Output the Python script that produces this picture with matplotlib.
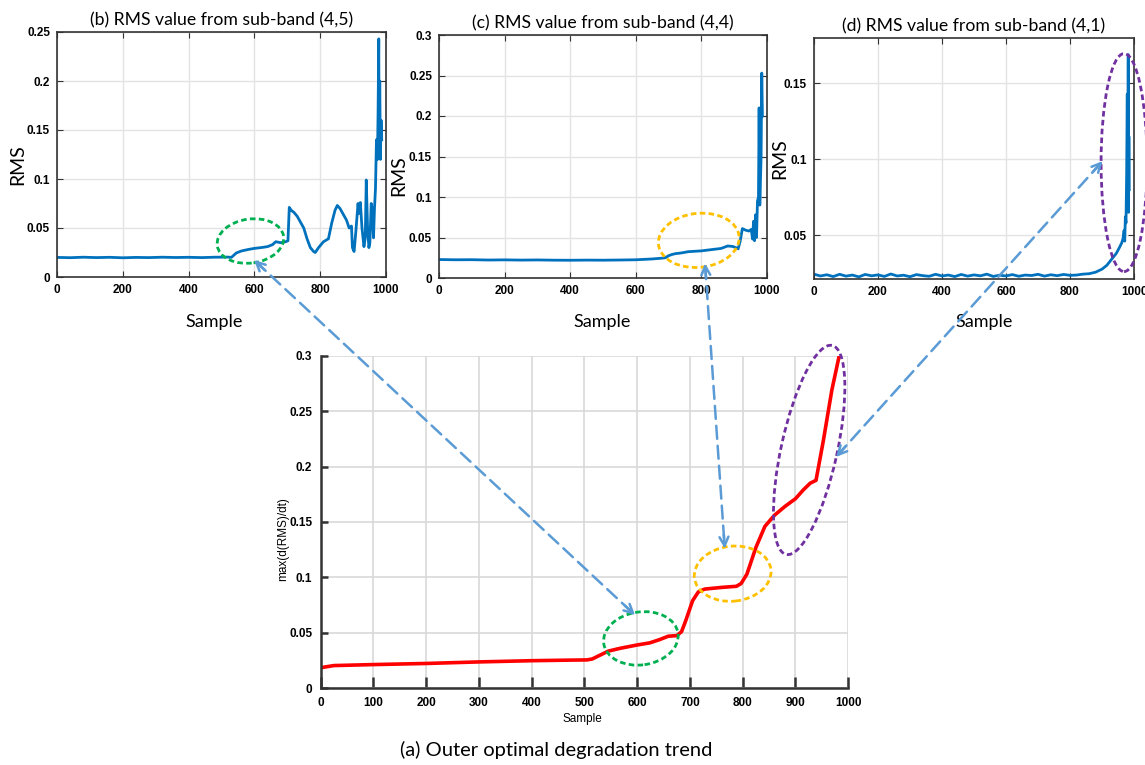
import numpy as np
import matplotlib
matplotlib.use('Agg')
import matplotlib.pyplot as plt
from matplotlib.patches import Ellipse, ConnectionPatch, FancyArrowPatch
from matplotlib.transforms import ScaledTranslation
from matplotlib.ticker import FuncFormatter

# ---- data ----
# (a) outer optimal degradation trend
a_sample = [0, 25, 100, 200, 300, 400, 470, 505, 515, 530,
            545, 567, 599, 624, 643, 659, 675, 684, 692, 705,
            716, 728, 760, 788, 797, 808, 825, 842, 860, 880,
            900, 915, 928, 939, 953, 969, 983]
a_trend = [0.0186, 0.0205, 0.0214, 0.0224, 0.0238, 0.0249, 0.0254, 0.0256, 0.0265, 0.0300,
           0.0335, 0.0360, 0.0390, 0.0410, 0.0440, 0.0470, 0.0475, 0.0510, 0.0610, 0.0790,
           0.0870, 0.0895, 0.0910, 0.0920, 0.0945, 0.1030, 0.1270, 0.1460, 0.1560, 0.1640,
           0.1710, 0.1790, 0.1850, 0.1876, 0.2237, 0.2690, 0.3000]

# (b) RMS from sub-band (4,5)
b_sample = [0, 40, 80, 120, 160, 200, 240, 280, 320, 360,
            400, 440, 480, 520, 530, 545, 560, 580, 600, 620,
            640, 655, 665, 680, 695, 702, 706, 712, 720, 730,
            740, 750, 760, 770, 780, 785, 795, 810, 825, 835,
            845, 852, 860, 870, 880, 888, 895, 898, 903, 908,
            915, 918, 922, 927, 933, 937, 940, 944, 948, 951,
            955, 958, 962, 965, 968, 971, 974, 976, 978, 979,
            981, 983, 985, 987]
b_rms = [0.0200, 0.0197, 0.0202, 0.0198, 0.0201, 0.0196, 0.0200, 0.0198, 0.0202, 0.0199,
         0.0201, 0.0198, 0.0202, 0.0203, 0.0200, 0.0245, 0.0265, 0.0280, 0.0292, 0.0300,
         0.0310, 0.0330, 0.0360, 0.0350, 0.0360, 0.0370, 0.0710, 0.0680, 0.0660, 0.0620,
         0.0560, 0.0500, 0.0390, 0.0300, 0.0260, 0.0250, 0.0300, 0.0360, 0.0390, 0.0550,
         0.0680, 0.0730, 0.0700, 0.0640, 0.0580, 0.0500, 0.0520, 0.0300, 0.0260, 0.0450,
         0.0750, 0.0650, 0.0760, 0.0500, 0.0310, 0.0400, 0.0990, 0.0500, 0.0300, 0.0350,
         0.0750, 0.0700, 0.0400, 0.0700, 0.0900, 0.1400, 0.1200, 0.1700, 0.2430, 0.1300,
         0.2000, 0.1200, 0.1600, 0.1400]

# (c) RMS from sub-band (4,4)
c_sample = [0, 50, 100, 150, 200, 250, 300, 350, 400, 450,
            500, 550, 600, 650, 680, 690, 700, 710, 720, 740,
            760, 780, 800, 820, 840, 860, 880, 895, 905, 912,
            918, 925, 935, 945, 952, 956, 959, 962, 965, 968,
            971, 974, 976, 978, 980, 982, 984, 986]
c_rms = [0.0228, 0.0225, 0.0226, 0.0222, 0.0224, 0.0221, 0.0223, 0.0220, 0.0219, 0.0221,
         0.0220, 0.0222, 0.0225, 0.0235, 0.0245, 0.0250, 0.0275, 0.0290, 0.0300, 0.0310,
         0.0325, 0.0330, 0.0335, 0.0345, 0.0355, 0.0365, 0.0395, 0.0390, 0.0375, 0.0360,
         0.0450, 0.0610, 0.0590, 0.0580, 0.0600, 0.0480, 0.0700, 0.0460, 0.0780, 0.0500,
         0.0950, 0.1000, 0.2100, 0.0900, 0.1200, 0.1500, 0.2530, 0.2000]

# (d) RMS from sub-band (4,1)
d_sample = list(range(0, 801, 20)) + [820, 840, 860, 880, 900, 915, 930, 945, 955, 962,
                                      966, 969, 971, 973, 975, 977, 979, 980, 981, 982,
                                      983, 984, 985]
d_rms = [0.0242, 0.0230, 0.0238, 0.0226, 0.0241, 0.0229, 0.0236, 0.0224, 0.0240, 0.0231,
         0.0237, 0.0227, 0.0243, 0.0230, 0.0235, 0.0225, 0.0239, 0.0232, 0.0228, 0.0241,
         0.0230, 0.0236, 0.0226, 0.0240, 0.0229, 0.0237, 0.0231, 0.0242, 0.0227, 0.0235,
         0.0230, 0.0239, 0.0228, 0.0236, 0.0233, 0.0241, 0.0229, 0.0238, 0.0232, 0.0240,
         0.0234,
         0.0236, 0.0242, 0.0245, 0.0255, 0.0275, 0.0300, 0.0340, 0.0380, 0.0420, 0.0450,
         0.0480, 0.0530, 0.0460, 0.0620, 0.0580, 0.0900, 0.1430, 0.0750, 0.1200, 0.1690,
         0.0650, 0.1150, 0.0800]

# ---- styling ----
W, H = 1145, 765
BLUE = '#0072bd'
LINK = '#5b9bd5'
GREEN, ORANGE, PURPLE = '#00b050', '#ffc000', '#7030a0'
TEXT_FONT = ['Lato', 'DejaVu Sans']

plt.rcParams['font.family'] = ['Liberation Sans Narrow', 'Liberation Sans', 'DejaVu Sans']
plt.rcParams['font.weight'] = 'bold'
plt.rcParams['font.size'] = 8.5


def box(l, t, r, b):
    return [l / W, 1 - b / H, (r - l) / W, (b - t) / H]


fig = plt.figure(figsize=(W / 100, H / 100), dpi=100)
fmt = FuncFormatter(lambda v, p: f'{v:g}')


def top_panel(rect, x, y, ylim, yticks, title, ylab_xy, xlab_xy):
    ax = fig.add_axes(box(*rect))
    ax.plot(x, y, color=BLUE, lw=2.0)
    ax.set_xlim(0, 1000)
    ax.set_ylim(*ylim)
    ax.set_xticks(range(0, 1001, 200))
    ax.set_yticks(yticks)
    ax.yaxis.set_major_formatter(fmt)
    ax.grid(True, color='#e3e3e3', lw=1)
    ax.set_axisbelow(True)
    ax.tick_params(direction='in', top=True, right=True, length=4, color='#333333', pad=5)
    for s in ax.spines.values():
        s.set_color('#333333')
        s.set_linewidth(1.2)
    ax.set_title(title, family=TEXT_FONT, weight='normal', fontsize=12.7, pad=5)
    ax.set_ylabel('RMS', family=TEXT_FONT, weight='normal', fontsize=14)
    ax.yaxis.set_label_coords(*ylab_xy)
    ax.set_xlabel('Sample', family=TEXT_FONT, weight='normal', fontsize=13)
    ax.xaxis.set_label_coords(*xlab_xy)
    return ax


ax_b = top_panel((57, 32, 386, 277), b_sample, b_rms, (0, 0.25),
                 [0, 0.05, 0.1, 0.15, 0.2, 0.25],
                 '(b) RMS value from sub-band (4,5)', (-0.094, 0.46), (0.477, -0.151))
ax_c = top_panel((439, 35, 767, 278), c_sample, c_rms, (0, 0.3),
                 [0, 0.05, 0.1, 0.15, 0.2, 0.25, 0.3],
                 '(c) RMS value from sub-band (4,4)', (-0.098, 0.42), (0.497, -0.148))
ax_d = top_panel((814, 38, 1134, 279), d_sample, d_rms, (0.021, 0.18),
                 [0.05, 0.1, 0.15],
                 '(d) RMS value from sub-band (4,1)', (-0.081, 0.5), (0.531, -0.145))

# main panel (a)
ax_a = fig.add_axes(box(320.7, 355.7, 848.2, 688.3))
ax_a.plot(a_sample, a_trend, color='#ff0000', lw=2.6, solid_capstyle='round',
          solid_joinstyle='round')
ax_a.set_xlim(0, 1000)
ax_a.set_ylim(0, 0.3)
ax_a.set_xticks(range(0, 1001, 100))
ax_a.set_yticks([0, 0.05, 0.1, 0.15, 0.2, 0.25, 0.3])
ax_a.yaxis.set_major_formatter(fmt)
ax_a.grid(True, color='#d9d9d9', lw=1.2)
ax_a.set_axisbelow(True)
ax_a.spines[['top', 'right']].set_visible(False)
for s in ('left', 'bottom'):
    ax_a.spines[s].set_color('#333333')
    ax_a.spines[s].set_linewidth(1.8)
ax_a.tick_params(axis='x', direction='in', length=8, width=1.8, color='#333333', pad=6)
ax_a.tick_params(axis='y', direction='in', length=5, width=1.8, color='#333333', pad=6)
ax_a.set_xlabel('Sample', fontsize=8.5)
ax_a.xaxis.set_label_coords(0.497, -0.074)
ax_a.set_ylabel('max(d(RMS)/dt)', fontsize=8.5)
ax_a.yaxis.set_label_coords(-0.06, 0.45)
fig.text(556 / W, 1 - 750 / H, '(a) Outer optimal degradation trend',
         family=TEXT_FONT, weight='normal', fontsize=14.5, ha='center', va='center')


# ---- highlight ellipses (centre in data, size in inches) ----
def ring(ax, cx, cy, w, h, angle, color):
    tr = fig.dpi_scale_trans + ScaledTranslation(cx, cy, ax.transData)
    fig.add_artist(Ellipse((0, 0), w, h, angle=angle, transform=tr, fill=False,
                           ec=color, lw=2.0, ls=(0, (2.0, 1.2)), zorder=5))


ring(ax_b, 588, 0.0367, 0.67, 0.44, 8, GREEN)
ring(ax_c, 792, 0.0465, 0.81, 0.54, 6, ORANGE)
ring(ax_d, 969, 0.0978, 0.46, 2.18, 0, PURPLE)
ring(ax_a, 607, 0.045, 0.75, 0.53, 8, GREEN)
ring(ax_a, 781, 0.1034, 0.77, 0.55, 6, ORANGE)
ring(ax_a, 926, 0.215, 2.14, 0.56, 77.6, PURPLE)


# ---- dashed double-headed links ----
def link(ax1, p1, ax2, p2):
    fig.add_artist(ConnectionPatch(xyA=p1, coordsA=ax1.transData, xyB=p2, coordsB=ax2.transData,
                                   arrowstyle='-', color=LINK, lw=1.8, ls=(0, (5.2, 2.8)),
                                   shrinkA=2, shrinkB=2, zorder=6))
    a = ax1.transData.transform(p1)
    b = ax2.transData.transform(p2)
    d = (b - a) / np.hypot(*(b - a))
    inv = fig.transFigure.inverted()
    for tip, back in ((a, a + d * 14), (b, b - d * 14)):
        fig.add_artist(FancyArrowPatch(inv.transform(back), inv.transform(tip),
                                       transform=fig.transFigure, arrowstyle='->',
                                       mutation_scale=16, color=LINK, lw=1.8,
                                       shrinkA=0, shrinkB=0, zorder=6))


link(ax_b, (599, 0.0173), ax_a, (596, 0.066))
link(ax_c, (811, 0.018), ax_a, (766, 0.126))
link(ax_d, (902, 0.0988), ax_a, (977, 0.2087))

fig.savefig('out.png', dpi=100)
